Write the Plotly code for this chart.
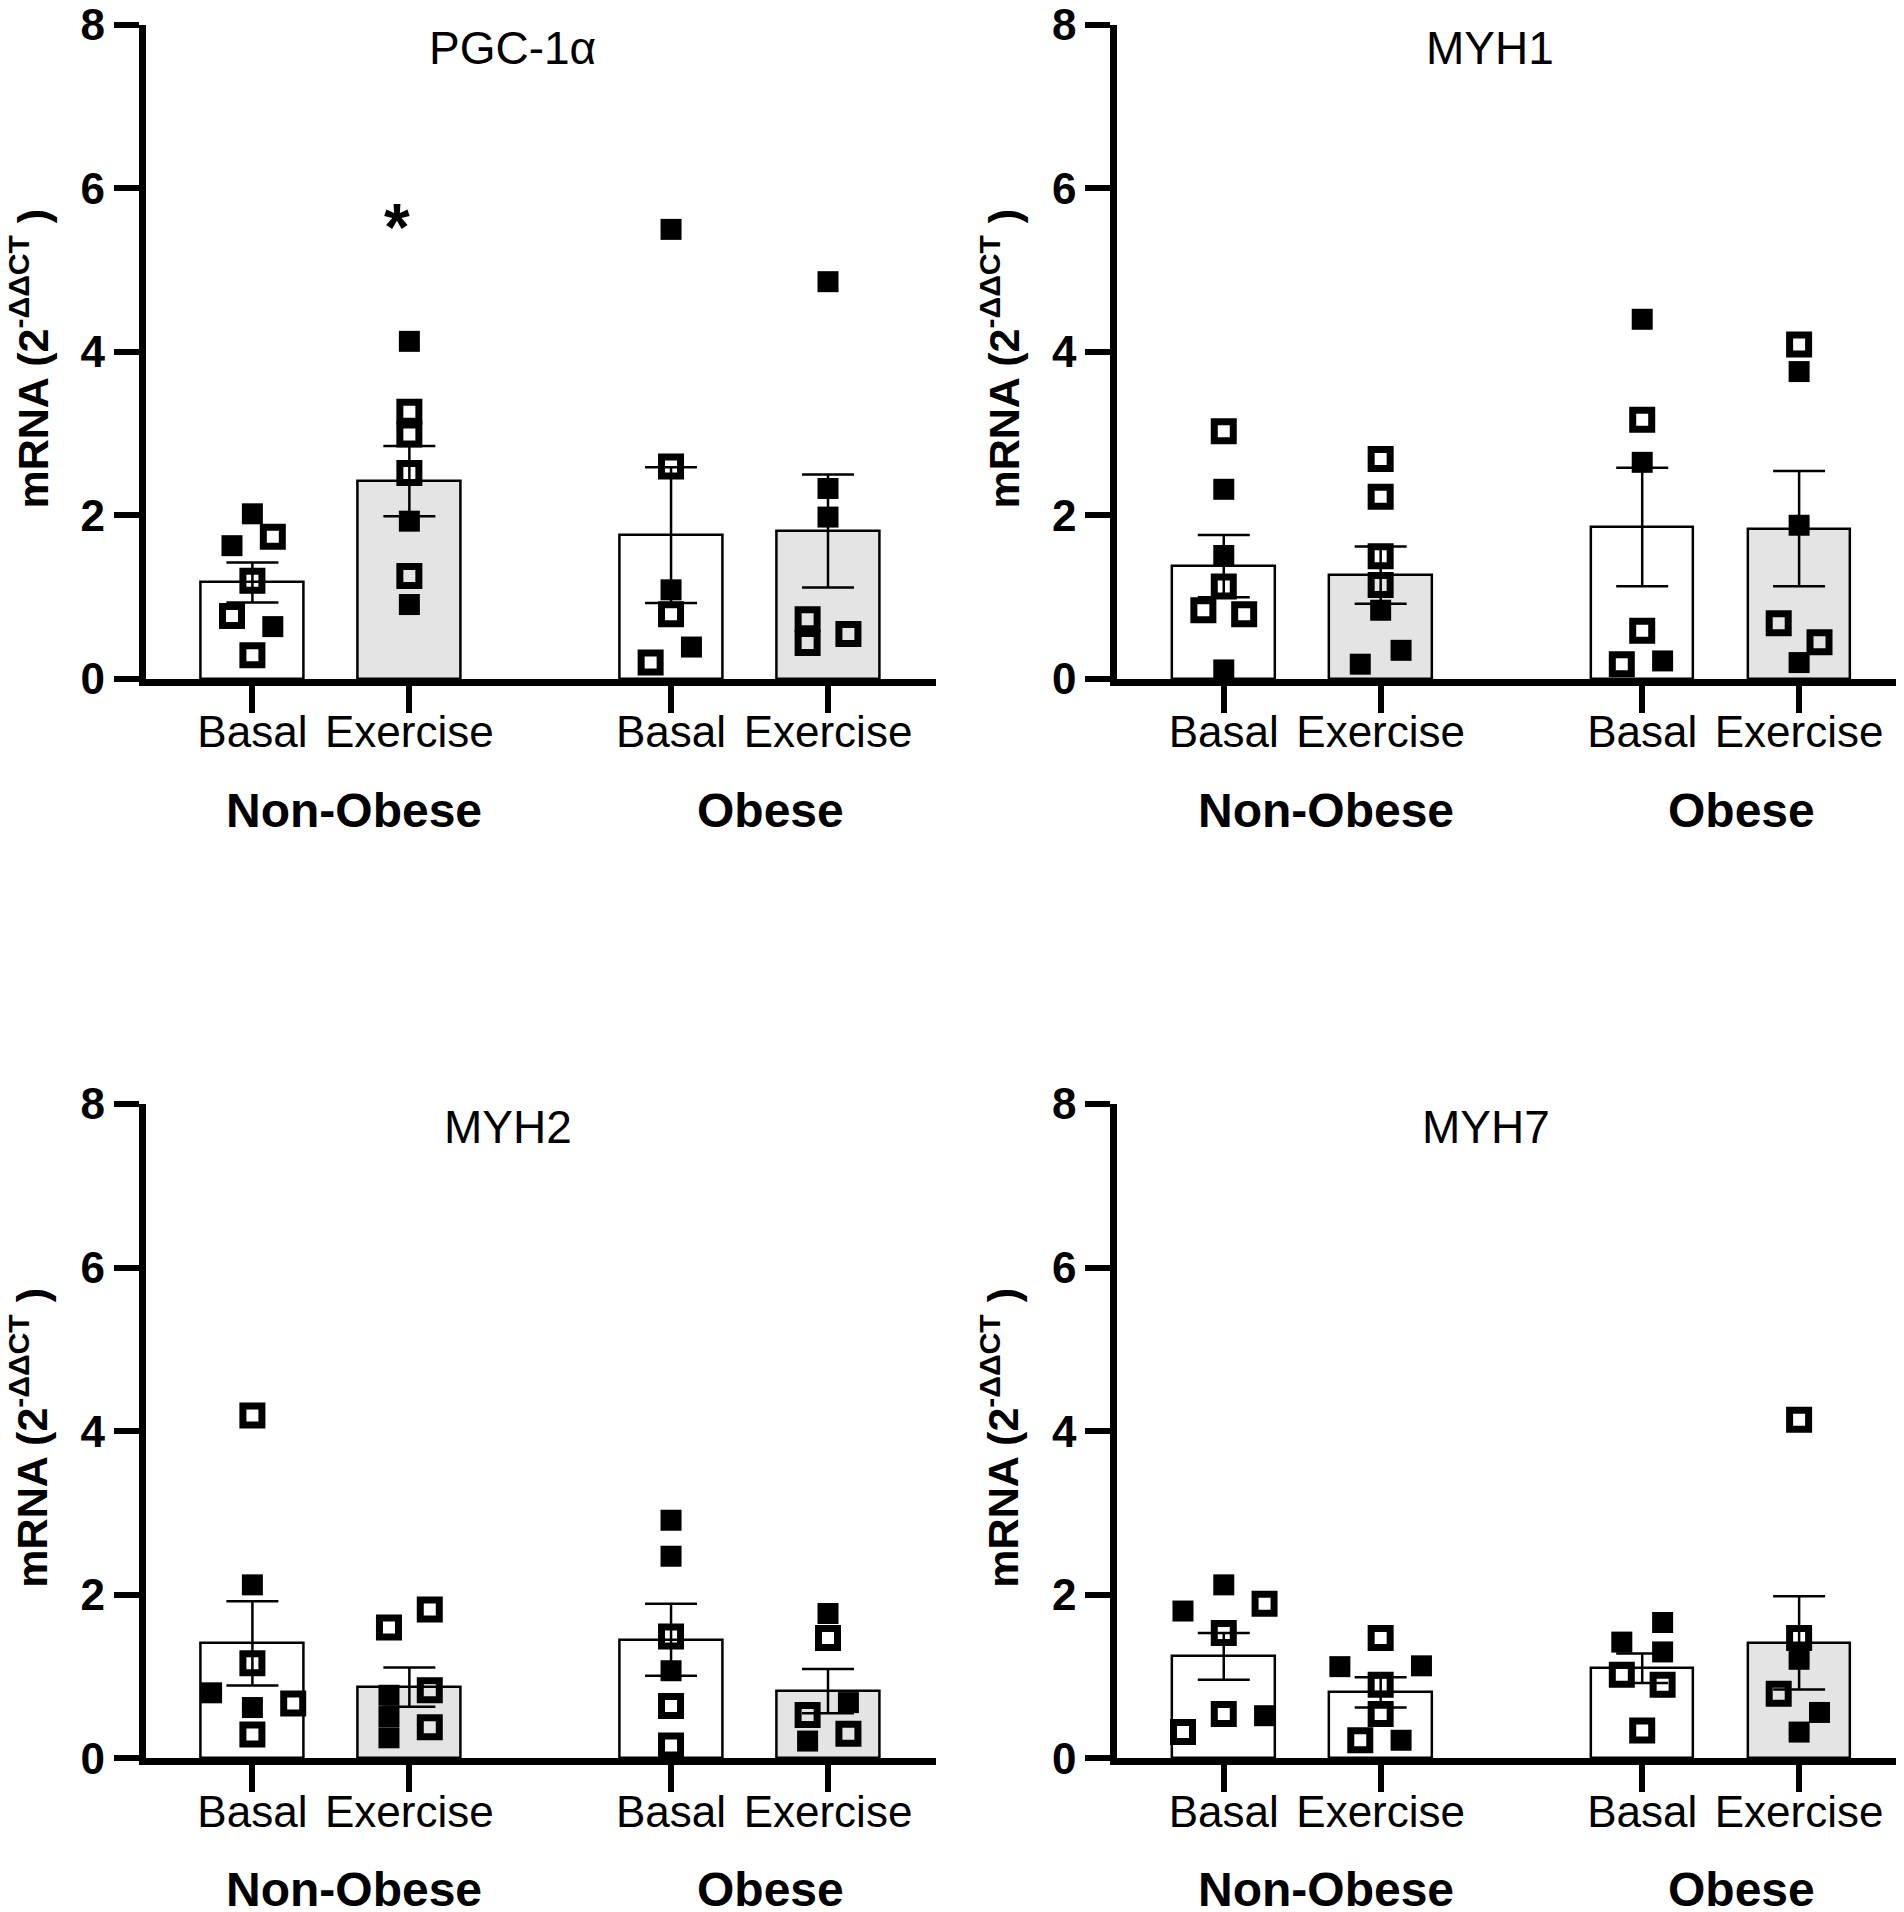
import plotly.graph_objects as go

# 4 panels, each: Basal / Exercise for Non-Obese and Obese
genes = ["PGC-1α", "MYH1", "MYH2", "MYH7"]
conditions = ["Basal", "Exercise", "Basal", "Exercise"]
cohorts = ["Non-Obese", "Obese"]

# individual points, filled = 1 -> black square, 0 -> open square
pgc_vals = [[2.02, 1.74, 1.63, 1.20, 0.77, 0.64, 0.29],
            [4.13, 3.27, 2.99, 2.52, 1.93, 1.26, 0.91],
            [5.50, 2.60, 1.09, 0.79, 0.39, 0.20],
            [4.86, 2.33, 1.98, 0.73, 0.44, 0.55]]
pgc_filled = [[1, 0, 1, 0, 0, 1, 0],
              [1, 0, 0, 0, 1, 0, 1],
              [1, 0, 1, 0, 1, 0],
              [1, 1, 1, 0, 0, 0]]
pgc_mean = [1.18, 2.42, 1.76, 1.81]
pgc_sem = [0.245, 0.43, 0.83, 0.69]

myh1_vals = [[3.03, 2.32, 1.51, 1.13, 0.84, 0.79, 0.11],
             [2.69, 2.23, 1.50, 1.15, 0.84, 0.35, 0.18],
             [4.40, 3.17, 2.65, 0.59, 0.22, 0.18],
             [4.09, 3.76, 1.88, 0.68, 0.45, 0.20]]
myh1_filled = [[0, 1, 1, 0, 0, 0, 1],
               [0, 0, 0, 0, 1, 1, 1],
               [1, 0, 1, 0, 1, 0],
               [0, 1, 1, 0, 0, 1]]
myh1_mean = [1.38, 1.27, 1.86, 1.84]
myh1_sem = [0.38, 0.35, 0.725, 0.705]

myh2_vals = [[4.19, 2.12, 1.16, 0.80, 0.62, 0.67, 0.29],
             [1.82, 1.60, 0.83, 0.77, 0.51, 0.38, 0.25],
             [2.91, 2.47, 1.49, 1.07, 0.64, 0.155],
             [1.77, 1.47, 0.68, 0.53, 0.30, 0.21]]
myh2_filled = [[0, 1, 0, 1, 1, 0, 0],
               [0, 0, 0, 1, 1, 0, 1],
               [1, 1, 0, 1, 0, 0],
               [1, 0, 1, 0, 0, 1]]
myh2_mean = [1.405, 0.87, 1.45, 0.82]
myh2_sem = [0.515, 0.24, 0.44, 0.27]

myh7_vals = [[2.12, 1.89, 1.80, 1.53, 0.54, 0.52, 0.32],
             [1.47, 1.12, 1.13, 0.90, 0.54, 0.22, 0.22],
             [1.66, 1.42, 1.30, 1.02, 0.90, 0.34],
             [4.14, 1.47, 1.21, 0.79, 0.56, 0.32]]
myh7_filled = [[1, 0, 1, 0, 0, 1, 0],
               [0, 1, 1, 0, 0, 0, 1],
               [1, 1, 1, 0, 0, 0],
               [0, 0, 1, 0, 1, 1]]
myh7_mean = [1.245, 0.805, 1.10, 1.41]
myh7_sem = [0.285, 0.185, 0.18, 0.57]

# horizontal scatter of the points (in steps), like GraphPad does
pgc_jit = [[0, 1, -1, 0, -1, 1, 0], [0, 0, 0, 0, 0, 0, 0], [0, 0, 0, 0, 1, -1], [0, 0, 0, -1, -1, 1]]
myh1_jit = [[0, 0, 0, 0, -1, 1, 0], [0, 0, 0, 0, 0, 1, -1], [0, 0, 0, 0, 1, -1], [0, 0, 0, -1, 1, 0]]
myh2_jit = [[0, 0, 0, -2, 0, 2, 0], [1, -1, 1, -1, -1, 1, -1], [0, 0, 0, 0, 0, 0], [0, 0, 1, -1, 1, -1]]
myh7_jit = [[0, 2, -2, 0, 0, 2, -2], [0, -2, 2, 0, 0, -1, 1], [1, -1, 1, -1, 1, 0], [0, 0, 0, -1, 1, 0]]

panels = [
    (pgc_vals, pgc_filled, pgc_jit, pgc_mean, pgc_sem),
    (myh1_vals, myh1_filled, myh1_jit, myh1_mean, myh1_sem),
    (myh2_vals, myh2_filled, myh2_jit, myh2_mean, myh2_sem),
    (myh7_vals, myh7_filled, myh7_jit, myh7_mean, myh7_sem),
]

WHITE = "white"
GREY = "#e4e4e4"
bar_fills = [[WHITE, GREY, WHITE, GREY],
             [WHITE, GREY, WHITE, GREY],
             [WHITE, GREY, WHITE, GREY],
             [WHITE, WHITE, WHITE, GREY]]

FONT = "Liberation Sans, Arial, sans-serif"
xpos = [0, 1, 2.667, 3.667]
JIT = 0.13
title_x = [1.66, 1.70, 1.63, 1.67]

# domains (paper fractions) for 1904 x 1912
x_domains = [[0.0723, 0.4874], [0.5825, 0.9974]]
y_domains = [[0.6491, 0.9911], [0.0846, 0.4268]]

fig = go.Figure()

for i, (vals, filled, jit, mean, sem) in enumerate(panels):
    xa = "x" if i == 0 else "x%d" % (i + 1)
    ya = "y" if i == 0 else "y%d" % (i + 1)

    fig.add_trace(go.Bar(
        x=xpos, y=mean, width=0.653,
        marker=dict(color=bar_fills[i], line=dict(color="black", width=2.5)),
        error_y=dict(type="data", array=sem, color="black", thickness=2.5, width=26),
        xaxis=xa, yaxis=ya, showlegend=False,
    ))

    for f in (1, 0):
        px_, py_ = [], []
        for g in range(4):
            for v, fl, j in zip(vals[g], filled[g], jit[g]):
                if fl == f:
                    px_.append(xpos[g] + j * JIT)
                    py_.append(v)
        if f == 1:
            mk = dict(symbol="square", size=21, color="black", line=dict(width=0))
        else:
            mk = dict(symbol="square-open", size=19, color="black", line=dict(width=7, color="black"))
        fig.add_trace(go.Scatter(x=px_, y=py_, mode="markers", marker=mk,
                                 xaxis=xa, yaxis=ya, showlegend=False, cliponaxis=False))

layout = dict(
    width=1904, height=1912,
    margin=dict(l=0, r=0, t=0, b=0, autoexpand=False),
    paper_bgcolor="white", plot_bgcolor="white",
    font=dict(family=FONT, color="black"),
    bargap=0,
)

annotations = []
for i in range(4):
    col, row = i % 2, i // 2
    xk = "xaxis" if i == 0 else "xaxis%d" % (i + 1)
    yk = "yaxis" if i == 0 else "yaxis%d" % (i + 1)
    xa = "x" if i == 0 else "x%d" % (i + 1)
    ya = "y" if i == 0 else "y%d" % (i + 1)
    layout[xk] = dict(
        domain=x_domains[col], anchor=ya, range=[-0.68, 4.355],
        showline=True, linewidth=6.5, linecolor="black",
        ticks="outside", ticklen=27, tickwidth=6, tickcolor="black",
        tickvals=xpos, ticktext=conditions, ticklabelstandoff=-18,
        ticklabeloverflow="allow",
        tickfont=dict(family=FONT, size=44, color="black"),
        showgrid=False, zeroline=False, fixedrange=True, automargin=False,
    )
    layout[yk] = dict(
        domain=y_domains[row], anchor=xa, range=[0, 8],
        showline=True, linewidth=6.5, linecolor="black",
        ticks="outside", ticklen=25, tickwidth=6, tickcolor="black",
        tickvals=[0, 2, 4, 6, 8], ticklabeloverflow="allow",
        tickfont=dict(family=FONT, size=44, color="black", weight="bold"),
        showgrid=False, zeroline=False, fixedrange=True, automargin=False,
    )

    # panel title
    annotations.append(dict(text=genes[i], xref=xa, yref=ya, x=title_x[i], y=7.72,
                            xanchor="center", yanchor="middle", showarrow=False,
                            font=dict(family=FONT, size=46, color="black")))
    # y axis title
    annotations.append(dict(text="<b>mRNA (2<sup>-ΔΔCT</sup> )</b>", textangle=-90,
                            xref="paper", x=(21 if col == 0 else 992) / 1904,
                            yref=ya + " domain", y=0.49,
                            xanchor="center", yanchor="middle", showarrow=False,
                            font=dict(family=FONT, size=43, color="black")))
    # cohort labels under the axis
    for c, cx in zip(cohorts, [0.65, 3.3]):
        annotations.append(dict(text="<b>%s</b>" % c, xref=xa, yref=ya + " domain",
                                x=cx, y=-0.201, xanchor="center", yanchor="middle",
                                showarrow=False,
                                font=dict(family=FONT, size=48, color="black")))

# significance mark on PGC-1a exercise, non-obese
annotations.append(dict(text="<b>*</b>", xref="x", yref="y", x=0.92, y=5.53,
                        xanchor="center", yanchor="middle", showarrow=False,
                        font=dict(family=FONT, size=66, color="black")))

layout["annotations"] = annotations
fig.update_layout(**layout)

fig.write_html("out.html")
